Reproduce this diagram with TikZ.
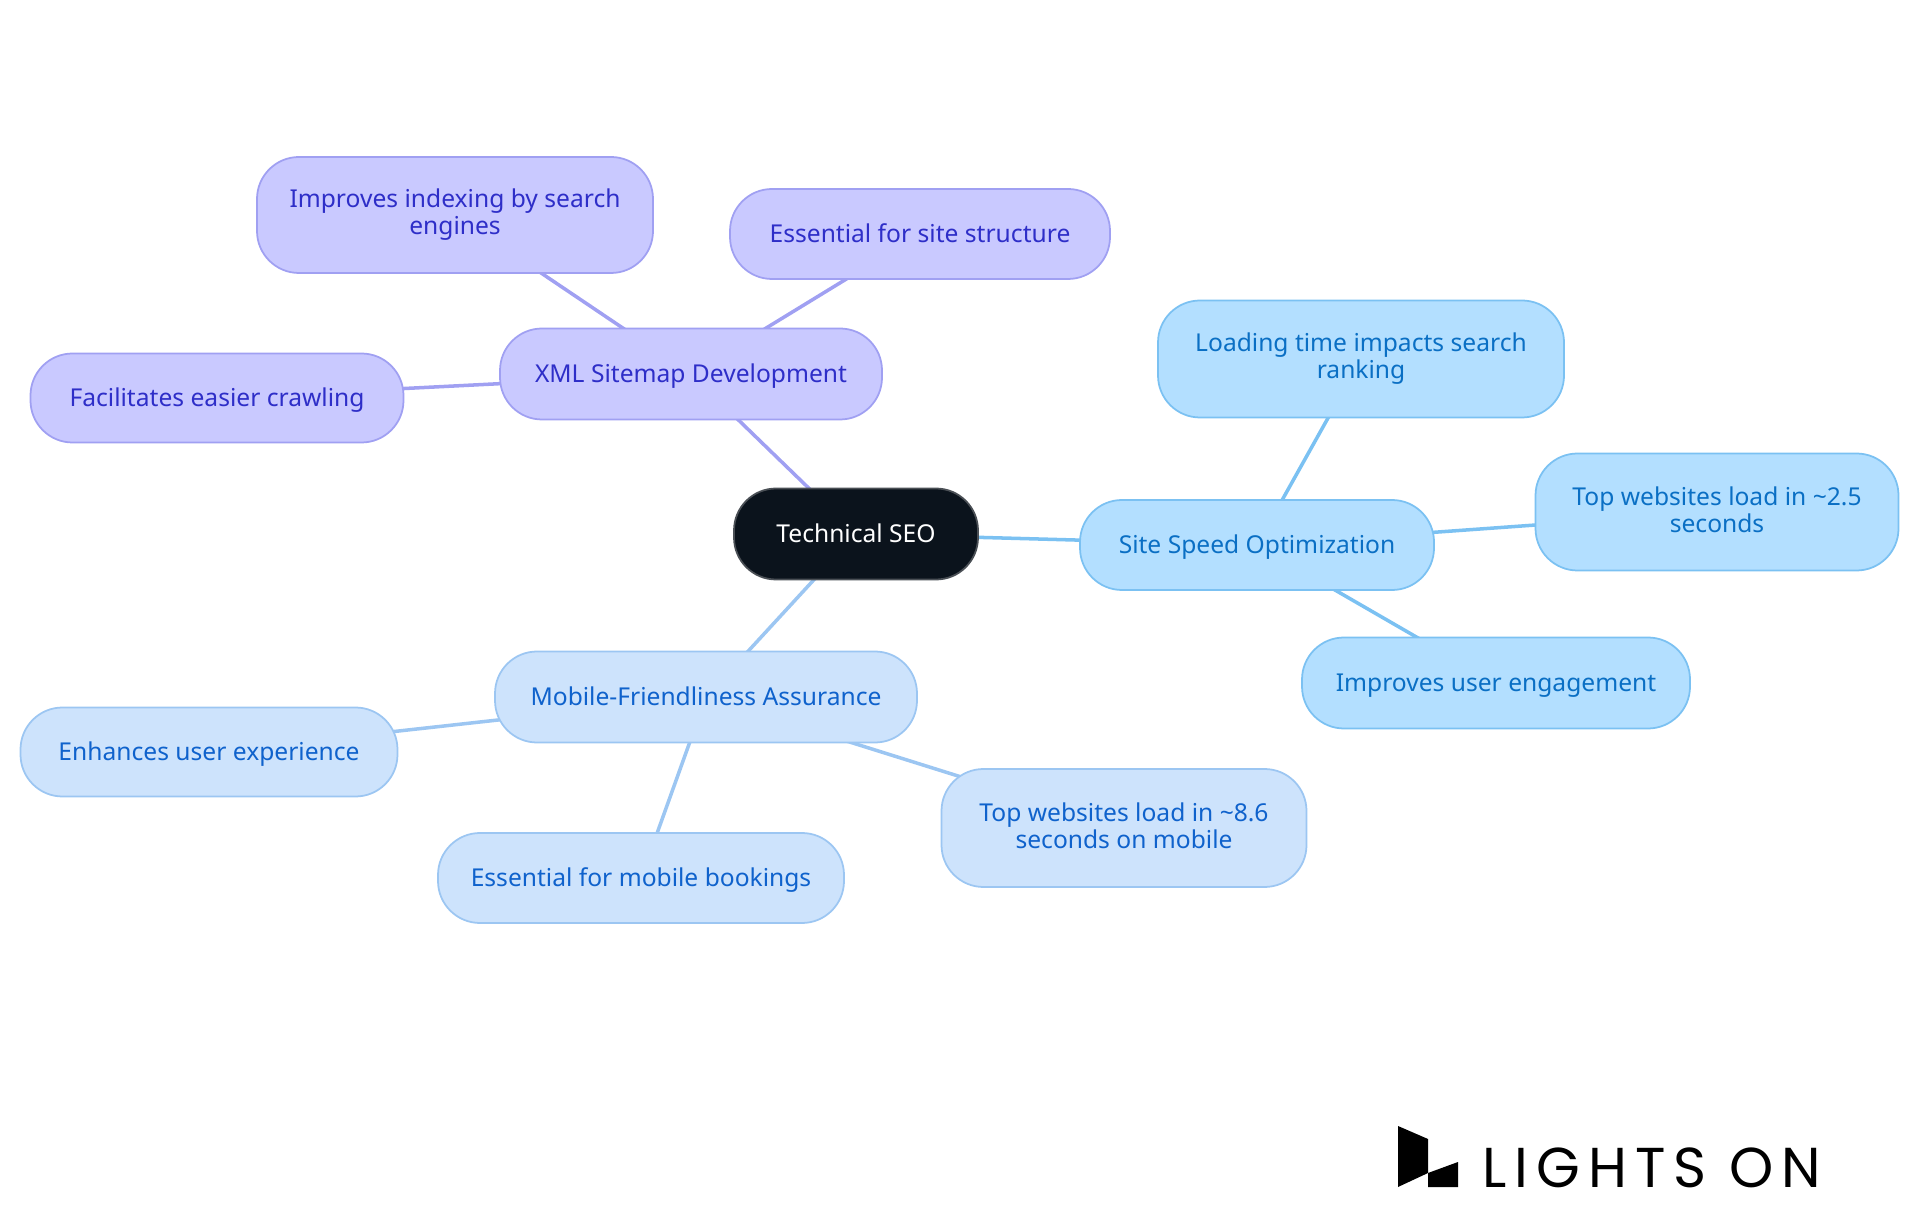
\documentclass[tikz,border=0pt]{standalone}
\usepackage{fontspec}
\setmainfont{Noto Sans}
\newfontfamily\logofont[LetterSpace=14]{Poppins}
\usetikzlibrary{backgrounds}
\definecolor{rootfill}{HTML}{0B131C}
\definecolor{rootline}{HTML}{4A4F55}
\definecolor{purplefill}{HTML}{C9C9FF}
\definecolor{purpleline}{HTML}{A0A0F2}
\definecolor{purpletext}{HTML}{2E2EC8}
\definecolor{skyfill}{HTML}{B3DFFF}
\definecolor{skyline}{HTML}{7BC1F2}
\definecolor{skytext}{HTML}{0A6FC4}
\definecolor{bluefill}{HTML}{CDE3FC}
\definecolor{blueline}{HTML}{9CC6F2}
\definecolor{bluetext}{HTML}{0F62CC}
\newcommand{\linestrut}{\rule[-1.5pt]{0pt}{8pt}}
\tikzset{
  box/.style={rounded corners=0.42cm, line width=0.5pt, inner sep=0pt, align=center,
    execute at begin node=\linestrut, execute at end node=\linestrut,
    font=\fontsize{7.0pt}{7.7pt}\selectfont},
  root/.style={box, fill=rootfill, draw=rootline, text=white},
  purplebox/.style={box, fill=purplefill, draw=purpleline, text=purpletext},
  skybox/.style={box, fill=skyfill, draw=skyline, text=skytext},
  bluebox/.style={box, fill=bluefill, draw=blueline, text=bluetext},
  dim/.style n args={2}{minimum width=#1cm, minimum height=#2cm},
  purpleedge/.style={draw=purpleline, line width=1pt},
  skyedge/.style={draw=skyline, line width=1pt},
  blueedge/.style={draw=blueline, line width=1pt}
}
\begin{document}
\begin{tikzpicture}
  \useasboundingbox (0,0) rectangle (19.2,12.15);
  \node [root, dim={2.44}{0.91}] (seo) at (8.56,6.81) {Technical SEO};

  \node [purplebox, dim={3.82}{0.91}] (xml) at (6.91,8.41) {XML Sitemap Development};
  \node [purplebox, dim={3.96}{1.16}] (indexing) at (4.55,10.00) {Improves indexing by search\\engines};
  \node [purplebox, dim={3.80}{0.90}] (structure) at (9.20,9.81) {Essential for site structure};
  \node [purplebox, dim={3.73}{0.89}] (crawling) at (2.17,8.17) {Facilitates easier crawling};

  \node [skybox, dim={3.54}{0.90}] (speed) at (12.57,6.70) {Site Speed Optimization};
  \node [skybox, dim={4.06}{1.17}] (ranking) at (13.61,8.56) {Loading time impacts search\\ranking};
  \node [skybox, dim={3.63}{1.17}] (desktop) at (17.17,7.03) {Top websites load in \textasciitilde2.5\\seconds};
  \node [skybox, dim={3.88}{0.91}] (engagement) at (14.96,5.32) {Improves user engagement};

  \node [bluebox, dim={4.22}{0.91}] (mobile) at (7.06,5.18) {Mobile-Friendliness Assurance};
  \node [bluebox, dim={3.77}{0.89}] (experience) at (2.09,4.63) {Enhances user experience};
  \node [bluebox, dim={4.06}{0.90}] (bookings) at (6.41,3.37) {Essential for mobile bookings};
  \node [bluebox, dim={3.65}{1.18}] (phones) at (11.24,3.87) {Top websites load in \textasciitilde8.6\\seconds on mobile};

  \begin{scope}[on background layer]
    \foreach \a/\b in {seo/xml, xml/indexing, xml/structure, xml/crawling}
      \draw [purpleedge] (\a.center) -- (\b.center);
    \foreach \a/\b in {seo/speed, speed/ranking, speed/desktop, speed/engagement}
      \draw [skyedge] (\a.center) -- (\b.center);
    \foreach \a/\b in {seo/mobile, mobile/experience, mobile/bookings, mobile/phones}
      \draw [blueedge] (\a.center) -- (\b.center);
  \end{scope}

  % logo
  \fill (13.98,0.89) -- (14.28,0.76) -- (14.28,0.42) -- (13.98,0.28) -- cycle;
  \fill (14.28,0.42) -- (14.58,0.53) -- (14.58,0.28) -- (14.28,0.28) -- cycle;
  \node [anchor=base west, inner sep=0pt, font=\logofont\fontsize{16.0pt}{16.0pt}\selectfont] (brand) at (14.82,0.28) {LIGHTS ON};
\end{tikzpicture}
\end{document}
